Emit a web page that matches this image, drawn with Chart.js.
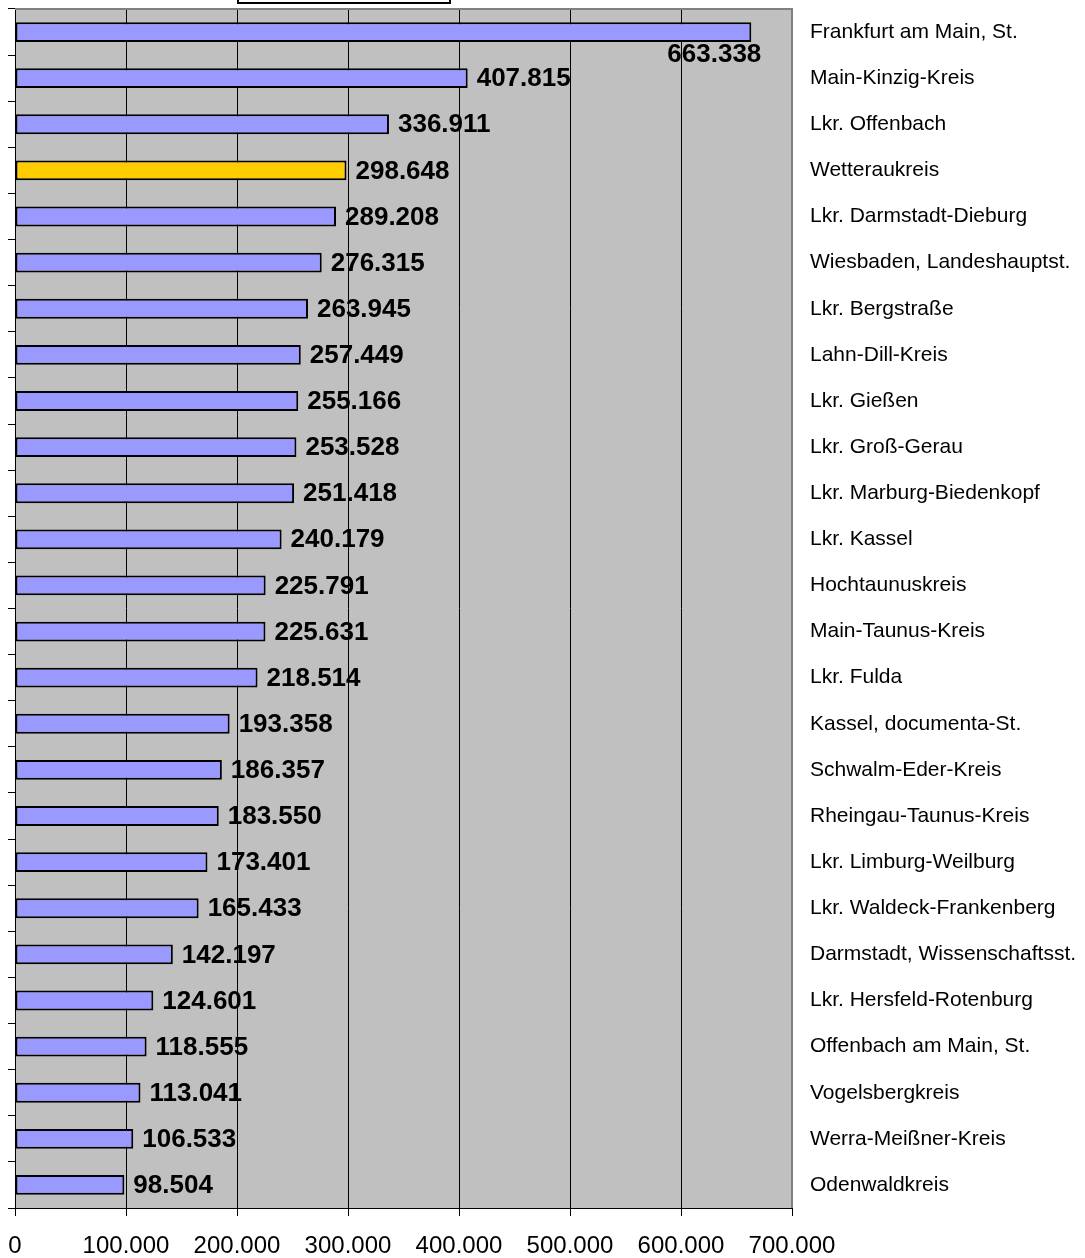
<!DOCTYPE html>
<html>
<head>
<meta charset="utf-8">
<script src="https://cdn.jsdelivr.net/npm/chart.js@4.4.0/dist/chart.umd.min.js"></script>
<style>
  body { margin: 0; background: #fff; }
  #wrap { position: relative; width: 1085px; height: 1258px; }
  #titleBox { position: absolute; left: 237px; top: -20px; width: 210px; height: 20px; border: 2px solid #000; background: #fff; }
</style>
</head>
<body>
<div id="wrap">
  <canvas id="chart" width="1085" height="1258"></canvas>
  <div id="titleBox"></div>
</div>
<script>
const kreise = [
    'Frankfurt am Main, St.', 'Main-Kinzig-Kreis', 'Lkr. Offenbach', 'Wetteraukreis',
    'Lkr. Darmstadt-Dieburg', 'Wiesbaden, Landeshauptst.', 'Lkr. Bergstraße', 'Lahn-Dill-Kreis',
    'Lkr. Gießen', 'Lkr. Groß-Gerau', 'Lkr. Marburg-Biedenkopf', 'Lkr. Kassel',
    'Hochtaunuskreis', 'Main-Taunus-Kreis', 'Lkr. Fulda', 'Kassel, documenta-St.',
    'Schwalm-Eder-Kreis', 'Rheingau-Taunus-Kreis', 'Lkr. Limburg-Weilburg', 'Lkr. Waldeck-Frankenberg',
    'Darmstadt, Wissenschaftsst.', 'Lkr. Hersfeld-Rotenburg', 'Offenbach am Main, St.', 'Vogelsbergkreis',
    'Werra-Meißner-Kreis', 'Odenwaldkreis'
];
const einwohner = [
    663338, 407815, 336911, 298648, 289208, 276315, 263945, 257449, 255166, 253528,
    251418, 240179, 225791, 225631, 218514, 193358, 186357, 183550, 173401, 165433,
    142197, 124601, 118555, 113041, 106533, 98504
];
const hervorgehoben = 'Wetteraukreis';

const fmt = v => v.toLocaleString('de-DE');

const noPad = s => { s.paddingTop = 0; s.paddingBottom = 0; s.paddingLeft = 0; s.paddingRight = 0; };

const plotBackground = {
    id: 'plotBackground',
    beforeDraw(chart) {
        const {ctx, chartArea: a} = chart;
        ctx.save();
        ctx.fillStyle = '#c0c0c0';
        ctx.fillRect(a.left, a.top, a.right - a.left, a.bottom - a.top);
        ctx.restore();
    },
    afterDraw(chart) {
        const {ctx, chartArea: a} = chart;
        ctx.save();
        ctx.strokeStyle = '#808080';
        ctx.lineWidth = 2;
        ctx.beginPath();
        ctx.moveTo(a.left, a.top);
        ctx.lineTo(a.right, a.top);
        ctx.lineTo(a.right, a.bottom);
        ctx.stroke();
        ctx.restore();
    }
};

const valueLabels = {
    id: 'valueLabels',
    afterDatasetsDraw(chart) {
        const {ctx, chartArea: a} = chart;
        const meta = chart.getDatasetMeta(0);
        ctx.save();
        ctx.font = 'bold 26px "Liberation Sans", Arial, sans-serif';
        ctx.fillStyle = '#000';
        ctx.textBaseline = 'middle';
        meta.data.forEach((bar, i) => {
            const txt = fmt(einwohner[i]);
            const w = ctx.measureText(txt).width;
            if (bar.x + 10 + w > a.right) {
                ctx.textAlign = 'right';
                ctx.fillText(txt, bar.x + 10, bar.y + 23);
            } else {
                ctx.textAlign = 'left';
                ctx.fillText(txt, bar.x + 9, bar.y + 1);
            }
        });
        ctx.restore();
    }
};

new Chart(document.getElementById('chart'), {
    type: 'bar',
    data: {
        labels: kreise,
        datasets: [{
            data: einwohner,
            backgroundColor: kreise.map(k => k === hervorgehoben ? '#ffcc00' : '#9999ff'),
            borderColor: '#000',
            borderWidth: 2,
            borderSkipped: false,
            categoryPercentage: 1,
            barPercentage: 0.43
        }]
    },
    options: {
        indexAxis: 'y',
        responsive: false,
        animation: false,
        layout: { padding: { top: 9, left: 0, right: 0, bottom: 0 } },
        plugins: { legend: { display: false }, tooltip: { enabled: false } },
        scales: {
            x: {
                min: 0,
                max: 700000,
                ticks: {
                    stepSize: 100000,
                    callback: v => fmt(v),
                    color: '#000',
                    font: { family: '"Liberation Sans", Arial, sans-serif', size: 24 },
                    padding: 16,
                    maxRotation: 0
                },
                grid: { color: '#000', lineWidth: 1, tickLength: 8, tickColor: '#000' },
                border: { color: '#000', width: 1 },
                afterFit: s => { s.height = 50; noPad(s); }
            },
            y: {
                position: 'right',
                ticks: {
                    color: '#000',
                    font: { family: '"Liberation Sans", Arial, sans-serif', size: 21 },
                    padding: 10,
                    autoSkip: false
                },
                grid: { display: false },
                border: { display: false },
                afterFit: s => { s.width = 293; noPad(s); }
            },
            yLeft: {
                type: 'category',
                position: 'left',
                offset: true,
                ticks: { display: false },
                grid: { offset: true, drawOnChartArea: false, tickLength: 7, color: '#000' },
                border: { color: '#000', width: 1 },
                afterFit: s => { s.width = 15; noPad(s); }
            }
        }
    },
    plugins: [plotBackground, valueLabels]
});
</script>
</body>
</html>
